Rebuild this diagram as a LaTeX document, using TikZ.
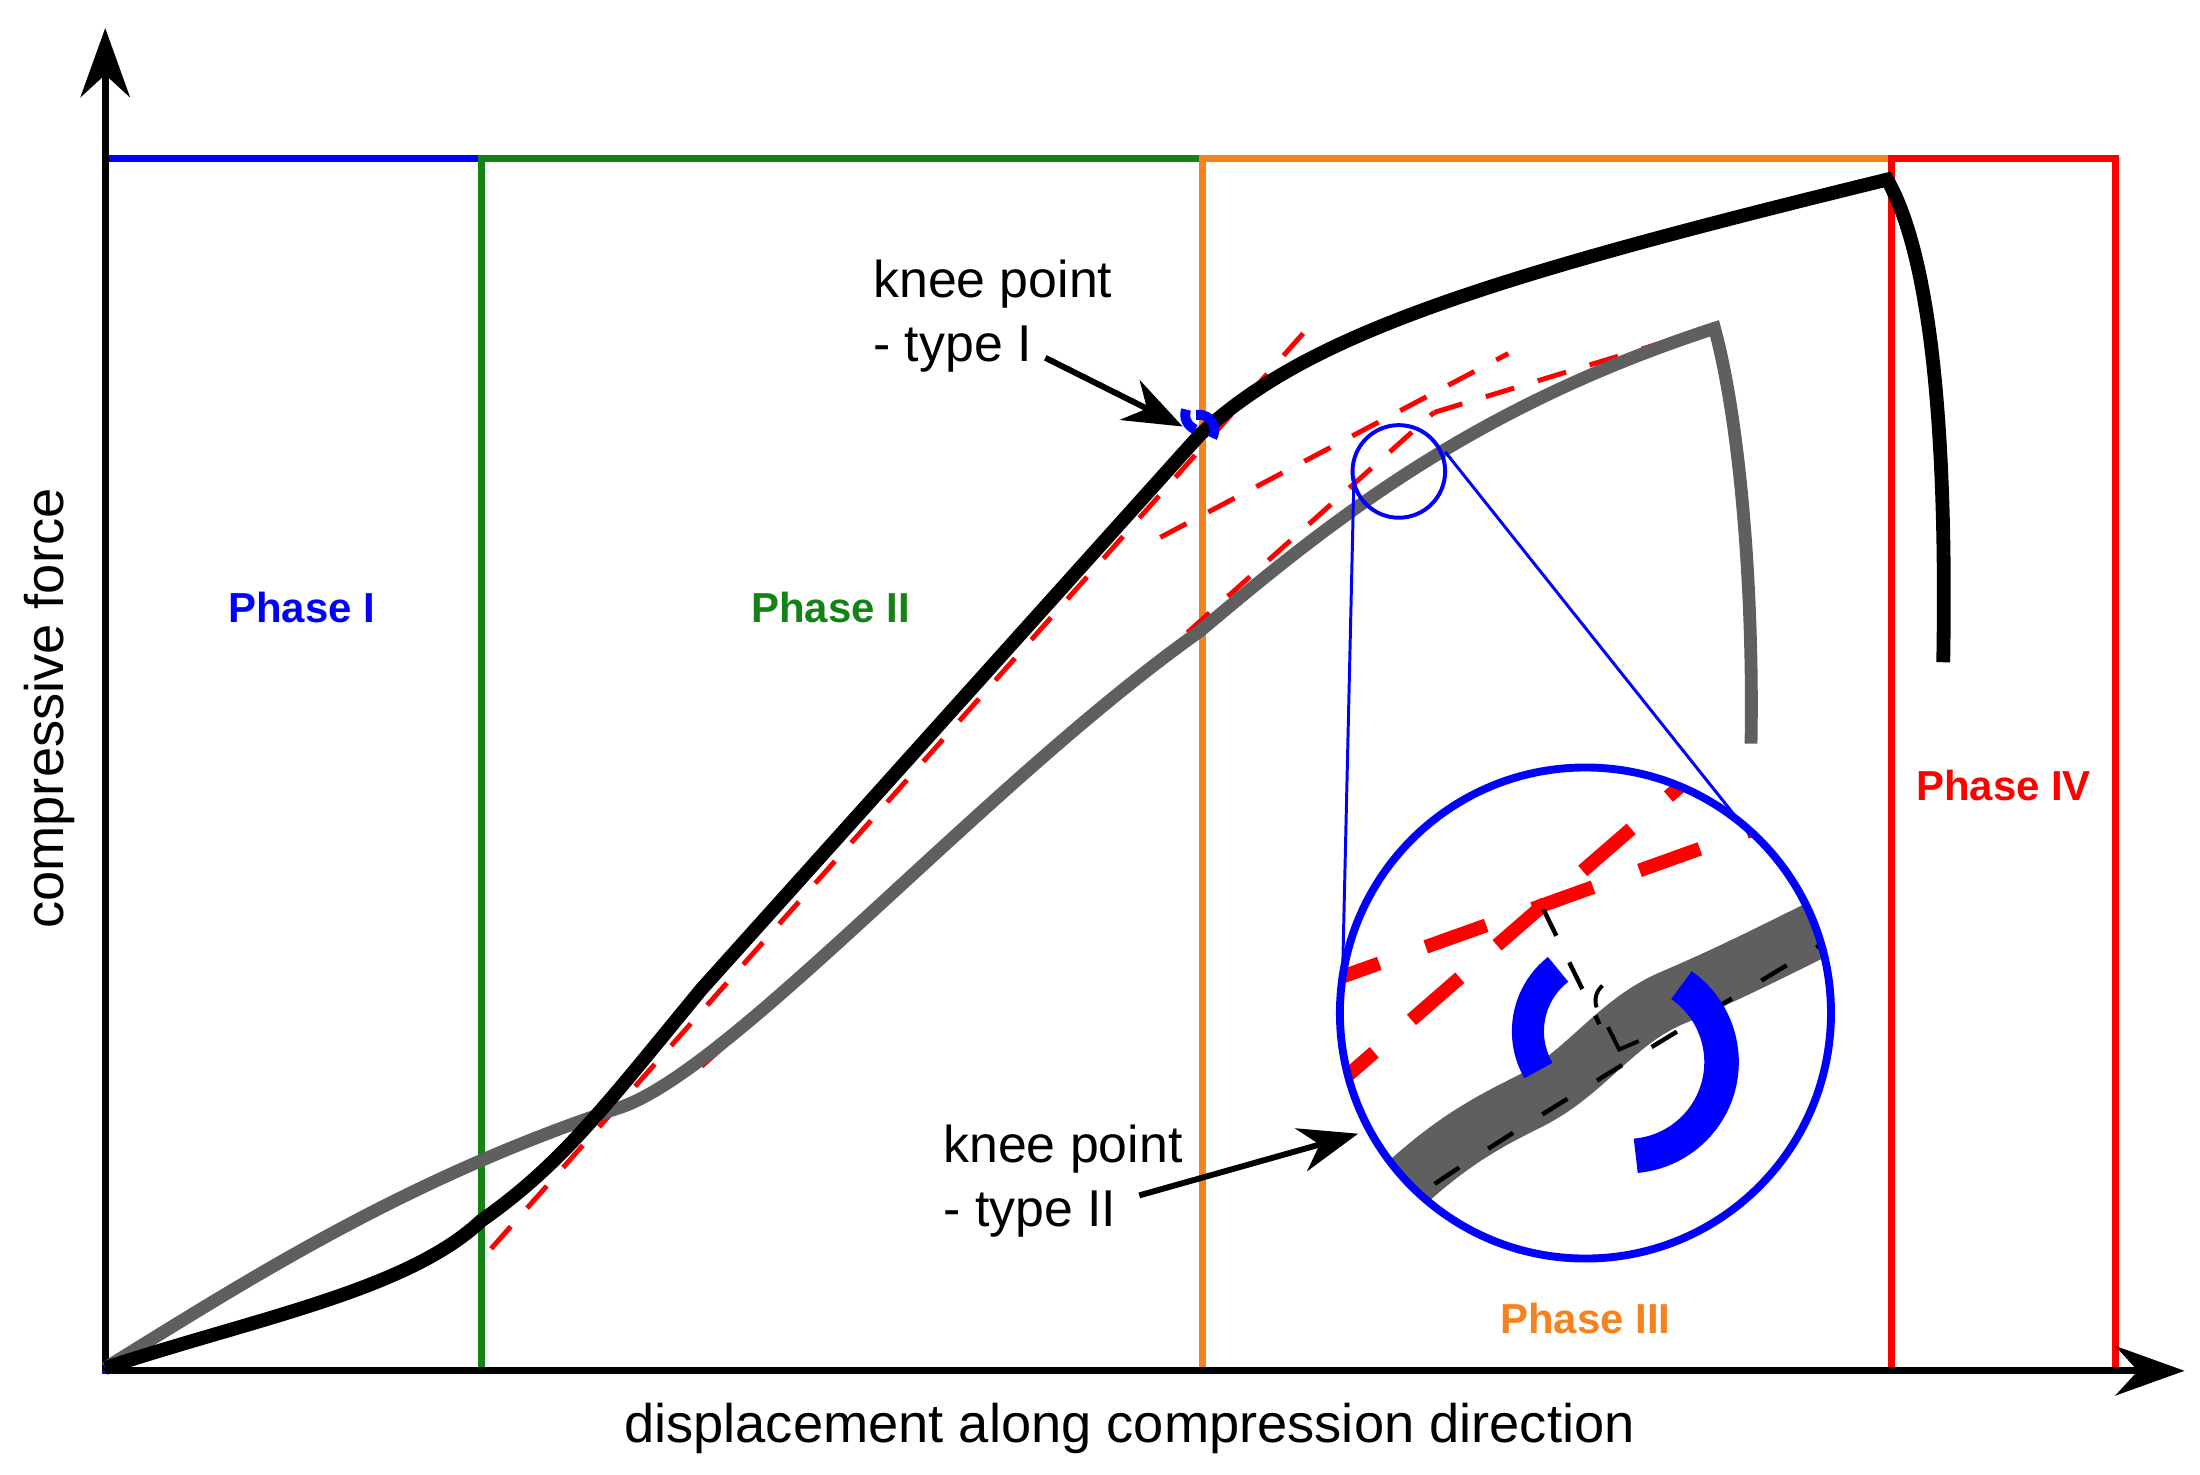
\documentclass[tikz,border=0pt]{standalone}
\usepackage{fontspec}
\setmainfont{Liberation Sans}
\usetikzlibrary{arrows.meta}
\definecolor{pgreen}{RGB}{20,130,20}
\definecolor{porange}{RGB}{245,130,30}
\definecolor{pblue}{RGB}{0,0,255}
\definecolor{pred}{RGB}{255,0,0}
\definecolor{cgray}{RGB}{95,95,95}
\begin{document}
\begin{tikzpicture}[x=0.01cm,y=-0.01cm,
  box/.style={line width=1.4pt},
  phase/.style={font=\bfseries\fontsize{8.5}{10}\selectfont},
  lbl/.style={font=\fontsize{10.5}{13}\selectfont,align=left},
  tang/.style={pred,line width=1pt,dash pattern=on 6pt off 5pt},
  big/.style={pred,line width=2.8pt,dash pattern=on 13pt off 10pt},
  arr/.style={line width=1.2pt,-{Stealth[length=12pt,width=9pt]}}]
\useasboundingbox (0,0) rectangle (1568,1051);
% phase boxes
\draw[box,pblue] (75,113) rectangle (343,977);
\draw[box,pgreen] (343,113) rectangle (857,977);
\draw[box,porange] (857,113) rectangle (1348,977);
\draw[box,pred] (1348,113) rectangle (1508,977);
\node[phase,text=pblue] (p1) at (215,433) {Phase I};
\node[phase,text=pgreen] (p2) at (592,433) {Phase II};
\node[phase,text=porange] (p3) at (1130,940) {Phase III};
\node[phase,text=pred] (p4) at (1428,560) {Phase IV};
% axes
\coordinate (o) at (75,977);
\coordinate (ytip) at (75,20);
\coordinate (xtip) at (1557,977);
\draw[line width=1.4pt,-{Stealth[length=14pt,width=10pt]}] (o) -- (ytip);
\draw[line width=1.4pt,-{Stealth[length=14pt,width=10pt]}] (o) -- (xtip);
\node[lbl,font=\fontsize{11}{13}\selectfont] (xl) at (805,1018) {displacement along compression direction};
\node[lbl,font=\fontsize{11}{13}\selectfont,rotate=90] (yl) at (35,505) {compressive force};
% tangents
\draw[tang] (350,890) -- (940,225);
\draw[tang] (827,383) -- (1075,252);
\draw[tang] (500,760) -- (1022,294);
\draw[tang] (1022,294) -- (1225,232);
% gray curve
\draw[cgray,line width=2.6pt] (75,975) .. controls (180,910) and (290,840) .. (440,790)
  .. controls (520,765) and (700,560) .. (855,450)
  .. controls (950,370) and (1050,290) .. (1222,234)
  .. controls (1240,300) and (1250,420) .. (1248,530);
% black curve
\draw[black,line width=2.8pt] (75,975) .. controls (180,940) and (290,920) .. (343,870)
  .. controls (400,830) and (430,790) .. (500,705)
  -- (855,310)
  .. controls (930,240) and (1050,200) .. (1345,128)
  .. controls (1375,180) and (1388,300) .. (1385,472);
% knee I marks
\draw[pblue,line width=2pt] (852,306) arc (110:200:11);
\draw[pblue,line width=2pt] (864,312) arc (30:-100:11);
% magnifier
\coordinate (sc) at (997,336);
\coordinate (bc) at (1130,722);
\coordinate (kl) at (1145,735);
\coordinate (kr) at (1160,757);
\draw[pblue,line width=0.8pt] (sc) circle (33);
\draw[pblue,line width=0.6pt] (965,340) -- (957,690);
\draw[pblue,line width=0.6pt] (1030,322) -- (1245,592);
\begin{scope}
\clip (bc) circle (174);
\draw[cgray,line width=11.5pt] (985,860) .. controls (1030,815) and (1060,800) .. (1090,785)
  .. controls (1130,765) and (1150,730) .. (1190,712)
  .. controls (1230,695) and (1260,680) .. (1320,650);
\draw[black,line width=0.9pt,dash pattern=on 6pt off 7pt] (985,870) .. controls (1040,830) and (1120,780) .. (1320,660);
\draw[big] (945,780) -- (1100,645) -- (1220,541);
\draw[big] (940,702) -- (1100,645) -- (1320,566);
\end{scope}
\draw[pblue,line width=1.6pt] (bc) circle (175);
\draw[black,line width=0.9pt,dash pattern=on 6pt off 6pt] (1100,648) -- (1140,730);
\draw[black,line width=0.8pt] (1138,718) arc (160:230:14);
\draw[black,line width=0.8pt] (1146,732) -- (1154,748) -- (1168,742);
\fill (1150,738) circle (1.2);
\draw[pblue,line width=6.5pt] (kl) ++(-128:56) arc (-128:-210:56);
\draw[pblue,line width=7pt] (kr) ++(-55:67) arc (-55:85:67);
% labels and arrows
\node[lbl,anchor=west] (k1) at (610,225) {knee point\\- type I};
\node[lbl,anchor=west] (k2) at (660,842) {knee point\\- type II};
\coordinate (k1t) at (843,304);
\coordinate (k2t) at (968,808);
\draw[arr] (745,255) -- (k1t);
\draw[arr] (812,852) -- (k2t);
\end{tikzpicture}
\end{document}
